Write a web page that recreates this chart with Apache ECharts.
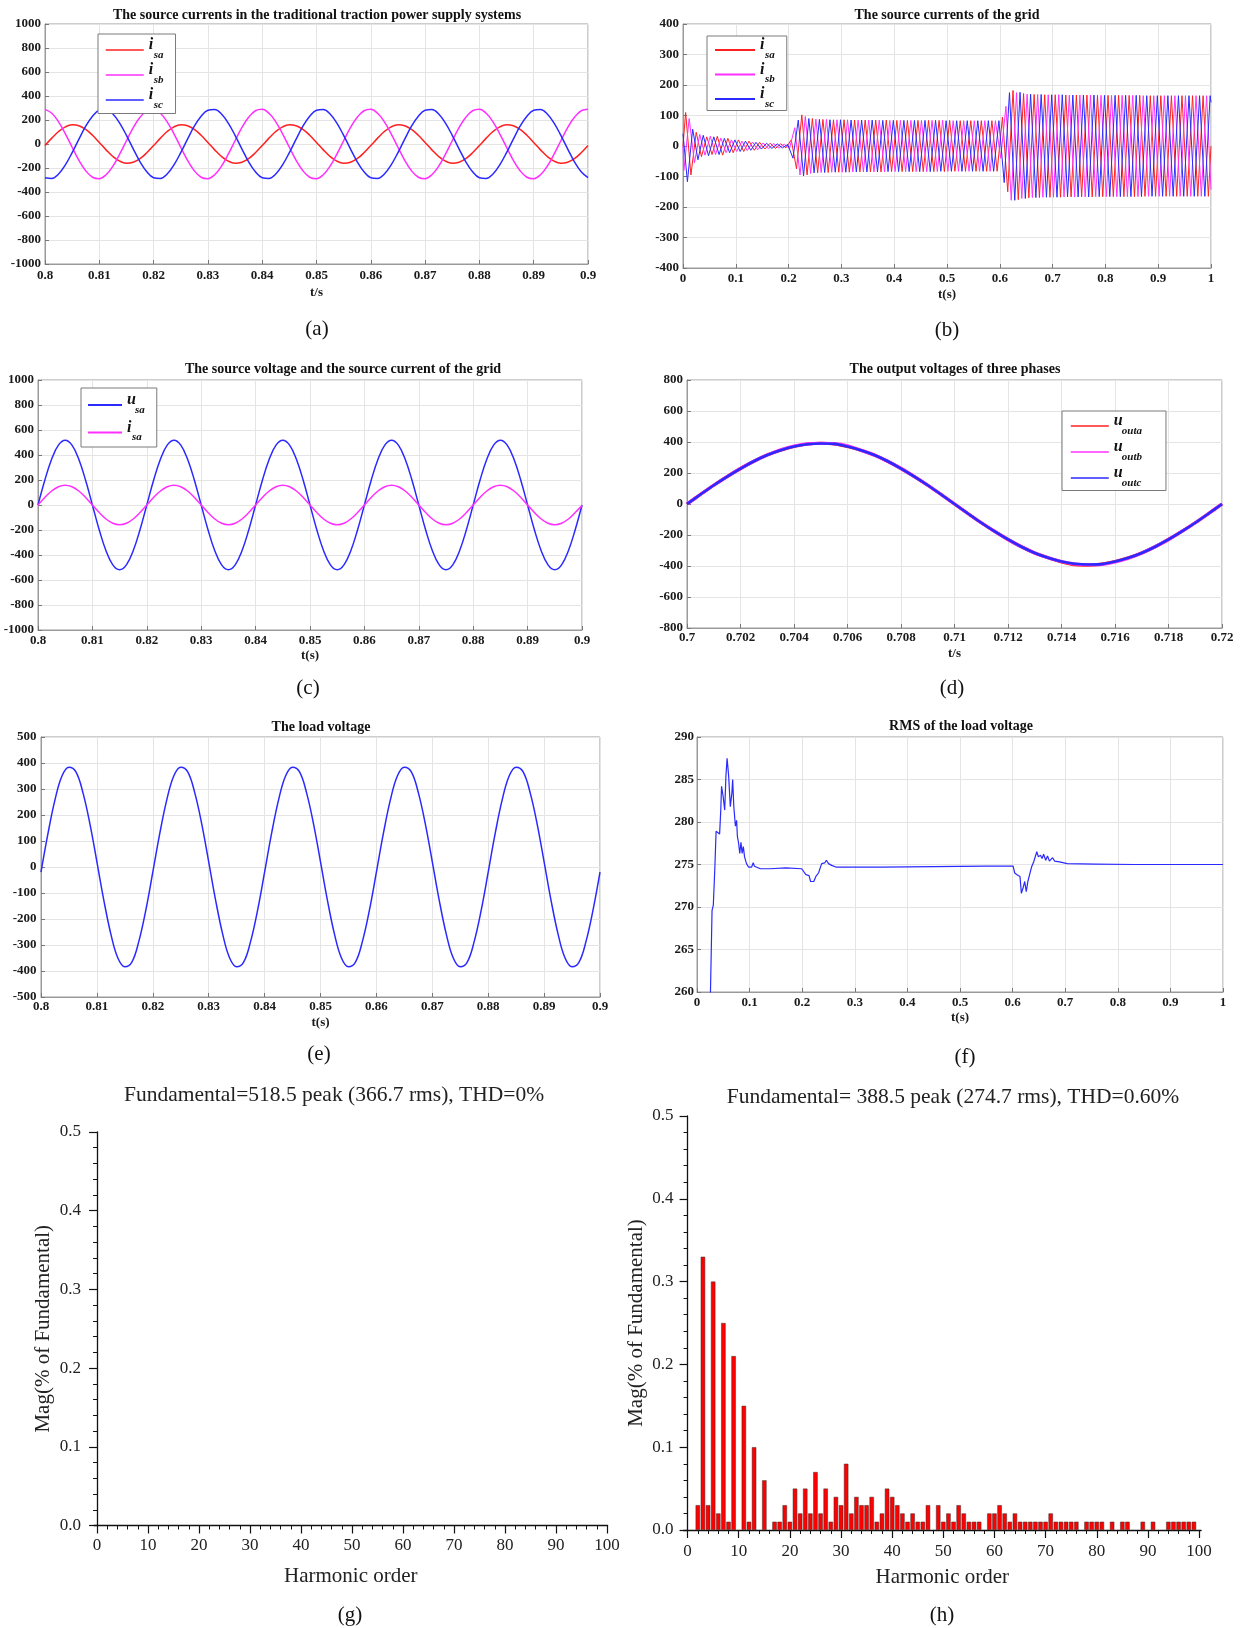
<!DOCTYPE html>
<html><head><meta charset="utf-8">
<script src="https://cdn.jsdelivr.net/npm/echarts@6.0.0/dist/echarts.min.js"></script>
<style>html,body{margin:0;padding:0;background:#fff}#c{width:1240px;height:1628px}</style>
</head><body><div id="c"></div><script>
// ---------------- DATA ----------------
// (a) source currents, traditional traction system; samples every 0.00125 s from 0.8 s
const aStart = 0.8, aStep = 0.00125;
const aIsa = [-13,49,104,143,160,152,122,73,13,-49,-104,-143,-160,-152,-122,-73,
  -13,49,104,143,160,152,122,73,13,-49,-104,-143,-160,-152,-122,-73,
  -13,49,104,143,160,152,122,73,13,-49,-104,-143,-160,-152,-122,-73,
  -13,49,104,143,160,152,122,73,13,-49,-104,-143,-160,-152,-122,-73,
  -13,49,104,143,160,152,122,73,13,-49,-104,-143,-160,-152,-122,-73,-13];
const aIsb = [289,256,185,85,-27,-136,-223,-277,-289,-256,-185,-85,27,136,223,277,
  289,256,185,85,-27,-136,-223,-277,-289,-256,-185,-85,27,136,223,277,
  289,256,185,85,-27,-136,-223,-277,-289,-256,-185,-85,27,136,223,277,
  289,256,185,85,-27,-136,-223,-277,-289,-256,-185,-85,27,136,223,277,
  289,256,185,85,-27,-136,-223,-277,-289,-256,-185,-85,27,136,223,277,289];
const aIsc = [-281,-287,-250,-174,-72,41,148,232,281,287,250,174,72,-41,-148,-232,
  -281,-287,-250,-174,-72,41,148,232,281,287,250,174,72,-41,-148,-232,
  -281,-287,-250,-174,-72,41,148,232,281,287,250,174,72,-41,-148,-232,
  -281,-287,-250,-174,-72,41,148,232,281,287,250,174,72,-41,-148,-232,
  -281,-287,-250,-174,-72,41,148,232,281,287,250,174,72,-41,-148,-232,-281];

// (b) source currents of the grid: successive extremes every 0.01 s
const bStep = 0.01;
const bFirst = [0.005, 0.00167, 0.00833];   // time of first extreme of isa, isb, isc
const bStartVal = [0, 0, 40];                // values at t = 0
const bEndVal = [0, -143, 143];              // values at t = 1
const bIsa = [110,-95,45,-35,30,-28,32,-30,25,-22, 20,-18,16,-14,12,-10,9,-8,7,-6,
  20,-75,102,-95,90,-88,87,-87,86,-86, 86,-86,85,-85,85,-85,85,-85,85,-84,
  84,-84,84,-84,84,-84,84,-84,84,-84, 84,-83,83,-83,83,-83,83,-83,83,-83,
  95,-150,182,-176,172,-170,169,-169,168,-168, 168,-168,167,-167,167,-167,167,-167,166,-166,
  166,-166,166,-166,166,-166,166,-165,165,-165, 165,-165,165,-165,165,-165,165,-165,165,-165];
const bIsb = [-80,90,-55,38,-30,32,-28,26,-22,20, -18,16,-15,13,-12,10,-9,8,-7,6,
  -8,60,-95,97,-90,88,-87,87,-86,86, -86,86,-85,85,-85,85,-85,85,-85,84,
  -84,84,-84,84,-84,84,-84,84,-84,84, -83,83,-83,83,-83,83,-83,83,-83,83,
  -40,130,-178,175,-172,170,-169,169,-168,168, -168,168,-167,167,-167,167,-167,167,-166,166,
  -166,166,-166,166,-166,166,-166,165,-165,165, -165,165,-165,165,-165,165,-165,165,-165,165];
const bIsc = [-117,55,-45,35,-32,30,-28,25,-22,20, -18,16,-14,12,-10,9,-8,7,-6,5,
  -40,85,-98,90,-88,87,-87,86,-86,86, -86,85,-85,85,-85,85,-85,84,-84,84,
  -84,84,-84,84,-84,84,-84,84,-83,83, -83,83,-83,83,-83,83,-83,83,-83,83,
  -120,175,-178,176,-172,170,-169,169,-168,168, -168,168,-167,167,-167,167,-167,167,-166,166,
  -166,166,-166,166,-166,166,-166,165,-165,165, -165,165,-165,165,-165,165,-165,165,-165,165];

// (c) source voltage and current; samples every 0.00125 s from 0.8 s
const cUsa = [0,198,366,479,518,479,366,198,0,-198,-366,-479,-518,-479,-366,-198,
  0,198,366,479,518,479,366,198,0,-198,-366,-479,-518,-479,-366,-198,
  0,198,366,479,518,479,366,198,0,-198,-366,-479,-518,-479,-366,-198,
  0,198,366,479,518,479,366,198,0,-198,-366,-479,-518,-479,-366,-198,
  0,198,366,479,518,479,366,198,0,-198,-366,-479,-518,-479,-366,-198,0];
const cIsa = [0,60,112,146,158,146,112,60,0,-60,-112,-146,-158,-146,-112,-60,
  0,60,112,146,158,146,112,60,0,-60,-112,-146,-158,-146,-112,-60,
  0,60,112,146,158,146,112,60,0,-60,-112,-146,-158,-146,-112,-60,
  0,60,112,146,158,146,112,60,0,-60,-112,-146,-158,-146,-112,-60,
  0,60,112,146,158,146,112,60,0,-60,-112,-146,-158,-146,-112,-60,-5];

// (d) output voltages; samples every 0.0005 s from 0.7 s
const dStart = 0.7, dStep = 0.0005;
const dOutc = [0,61,121,177,229,276,316,347,371,385,390,388,371,347,316,276,229,177,121,61,
  0,-61,-121,-177,-229,-276,-316,-347,-371,-385,-390,-388,-371,-347,-316,-276,-229,-177,-121,-61,0];
const dOuta = [0,61,121,177,229,276,316,347,371,387,392,388,371,347,316,276,229,177,121,61,
  0,-61,-121,-177,-229,-276,-316,-347,-374,-392,-395,-388,-371,-347,-316,-276,-229,-177,-121,-61,0];
const dOutb = [0,61,121,177,229,276,316,350,374,388,392,390,376,347,316,276,229,177,121,61,
  0,-61,-121,-177,-229,-276,-316,-347,-371,-387,-392,-390,-374,-350,-316,-276,-229,-177,-121,-61,0];

// (e) load voltage; samples every 0.00125 s from 0.8 s
const eLoad = [-20,129,258,350,384,366,286,166,20,-129,-258,-350,-384,-366,-286,-166,
  -20,129,258,350,384,366,286,166,20,-129,-258,-350,-384,-366,-286,-166,
  -20,129,258,350,384,366,286,166,20,-129,-258,-350,-384,-366,-286,-166,
  -20,129,258,350,384,366,286,166,20,-129,-258,-350,-384,-366,-286,-166,
  -20,129,258,350,384,366,286,166,20,-129,-258,-350,-384,-366,-286,-166,-20];

// (f) RMS of the load voltage
const fTime = [0.025,0.0256,0.0286,0.031,0.034,0.0363,0.040,0.043,0.0452,0.0467,0.0497,0.0527,0.055,0.0572,
  0.0602,0.0633,0.0663,0.0678,0.070,0.073,0.0753,0.0768,0.0791,0.0813,0.0836,0.0858,0.0881,0.0904,0.0941,
  0.0979,0.1039,0.1069,0.1092,0.1205,0.139,0.169,0.199,0.207,0.213,0.216,0.222,0.226,0.231,0.237,0.243,
  0.246,0.250,0.256,0.264,0.35,0.45,0.55,0.601,0.604,0.6084,0.614,0.6167,0.6197,0.623,0.626,0.629,0.6325,
  0.636,0.640,0.643,0.646,0.649,0.653,0.656,0.659,0.663,0.6664,0.670,0.676,0.680,0.689,0.704,0.757,0.832,0.907,1.0];
const fRms = [250,260,269.6,270.2,274.7,278.9,279.0,278.6,281.4,284.2,283.0,281.4,285.4,287.5,
  285.4,281.8,283.4,285.0,281.8,279.5,280.2,278.3,277.5,276.3,277.6,276.3,277.1,275.9,275.1,
  274.7,274.7,275.2,274.8,274.5,274.5,274.6,274.5,273.8,273.7,273.0,273.0,273.6,274.0,275.1,275.2,
  275.5,275.1,274.9,274.7,274.7,274.75,274.8,274.8,274.0,273.8,273.6,271.6,272.2,273.0,271.8,273.0,273.2,
  274.7,275.3,275.5,276.5,275.9,276.1,275.7,276.2,275.5,276.0,275.4,275.8,275.4,275.3,275.1,275.05,275.0,275.0,275.0];

// (g) harmonic spectrum of source voltage: THD = 0 -> no harmonic bars
const gOrders = [];
const gMags = [];

// (h) harmonic spectrum of load voltage
const hOrders = [2,3,4,5,6,7,8,9,11,12,13,15,17,18,19,20,21,22,23,24,25,26,27,28,29,30,31,32,33,34,35,36,37,38,39,40,
  41,42,43,44,45,46,47,49,50,51,52,53,54,55,56,57,59,60,61,62,63,64,65,66,67,68,69,70,71,72,73,74,75,76,
  78,79,80,81,83,85,86,89,91,94,95,96,97,98,99];
const hMags = [0.03,0.33,0.03,0.30,0.02,0.25,0.01,0.21,0.15,0.01,0.10,0.06,0.01,0.01,0.03,0.01,0.05,0.02,0.05,0.02,0.07,0.02,0.05,0.01,0.04,0.03,0.08,0.02,0.04,0.03,0.03,0.04,0.01,0.02,0.05,0.04,
  0.03,0.02,0.01,0.02,0.01,0.01,0.03,0.03,0.01,0.02,0.01,0.03,0.02,0.01,0.01,0.01,0.02,0.02,0.03,0.02,0.01,0.02,0.01,0.01,0.01,0.01,0.01,0.01,0.02,0.01,0.01,0.01,0.01,0.01,
  0.01,0.01,0.01,0.01,0.01,0.01,0.01,0.01,0.01,0.01,0.01,0.01,0.01,0.01,0.01];

// tick values
const harmonicTicks = [0,10,20,30,40,50,60,70,80,90,100];
const harmonicMinorTicks = [2,4,6,8,12,14,16,18,22,24,26,28,32,34,36,38,42,44,46,48,52,54,56,58,
  62,64,66,68,72,74,76,78,82,84,86,88,92,94,96,98];

// ---------------- BUILD ----------------
const FONT = '"Liberation Serif", "Times New Roman", serif';
const RED = '#ff2020', MAG = '#ff30ff', BLUE = '#2a2aff';
const sampled = (start, step, vals) => vals.map((v, i) => [+(start + i * step).toFixed(6), v]);
const extremes = (k) => {
  const vals = [bIsa, bIsb, bIsc][k];
  const pts = [[0, bStartVal[k]]];
  vals.forEach((v, i) => pts.push([+(bFirst[k] + i * bStep).toFixed(6), v]));
  pts.push([1, bEndVal[k]]);
  return pts;
};

const tickLbl = {fontFamily: FONT, fontWeight: 'bold', fontSize: 13, color: '#1a1a1a'};
const frameColor = '#9a9a9a';
const plain = v => String(+v.toFixed(6));
function mX(gi, min, max, interval, name, nameGap, margin) {
  return {type: 'value', gridIndex: gi, min, max, interval, name, nameLocation: 'middle', nameGap,
    nameTextStyle: Object.assign({}, tickLbl),
    axisLine: {show: true, onZero: false, lineStyle: {color: frameColor, width: 1}},
    axisTick: {show: true, inside: true, length: 4, lineStyle: {color: '#777'}},
    axisLabel: Object.assign({margin, formatter: plain}, tickLbl),
    splitLine: {show: true, lineStyle: {color: '#e4e4e4', width: 1}}};
}
function mY(gi, min, max, interval, margin) {
  return {type: 'value', gridIndex: gi, min, max, interval,
    axisLine: {show: true, onZero: false, lineStyle: {color: frameColor, width: 1}},
    axisTick: {show: true, inside: true, length: 4, lineStyle: {color: '#777'}},
    axisLabel: Object.assign({margin, formatter: plain}, tickLbl),
    splitLine: {show: true, lineStyle: {color: '#e4e4e4', width: 1}}};
}
const oLbl = {fontFamily: FONT, fontSize: 17, color: '#222'};
const oName = {fontFamily: FONT, fontSize: 21, color: '#222'};
function oXMajor(gi, min, max, margin, nameGap) {
  return {type: 'value', gridIndex: gi, min, max, position: 'bottom',
    name: 'Harmonic order', nameLocation: 'middle', nameGap, nameTextStyle: oName,
    axisLine: {show: true, onZero: false, lineStyle: {color: '#111', width: 1.3}},
    axisTick: {show: true, inside: false, length: 8, customValues: harmonicTicks, lineStyle: {color: '#111', width: 1.2}},
    axisLabel: Object.assign({margin, customValues: harmonicTicks}, oLbl),
    splitLine: {show: false}};
}
function oXMinor(gi, min, max) {
  return {type: 'value', gridIndex: gi, min, max, position: 'bottom',
    axisLine: {show: false},
    axisTick: {show: true, inside: false, length: 4, customValues: harmonicMinorTicks, lineStyle: {color: '#111', width: 1}},
    axisLabel: {show: false}, splitLine: {show: false}};
}
function oY(gi, margin, nameGap) {
  return {type: 'value', gridIndex: gi, min: 0, max: 0.5, interval: 0.1,
    name: 'Mag(% of Fundamental)', nameLocation: 'middle', nameGap, nameTextStyle: oName,
    axisLine: {show: true, lineStyle: {color: '#111', width: 1.3}},
    axisTick: {show: true, inside: false, length: 8, lineStyle: {color: '#111', width: 1.2}},
    minorTick: {show: true, splitNumber: 5, length: 4, lineStyle: {color: '#111', width: 1}},
    axisLabel: Object.assign({margin, formatter: v => v.toFixed(1)}, oLbl),
    splitLine: {show: false}};
}

// legend labels: main symbol, subscript
const legendLabel = {
  a_isa: ['i','sa'], a_isb: ['i','sb'], a_isc: ['i','sc'],
  b_isa: ['i','sa'], b_isb: ['i','sb'], b_isc: ['i','sc'],
  c_usa: ['u','sa'], c_isa: ['i','sa'],
  d_outa: ['u','outa'], d_outb: ['u','outb'], d_outc: ['u','outc']
};
const legTxt = {fontFamily: FONT, fontStyle: 'italic', fontWeight: 'bold', color: '#111'};
const rich = {
  m: Object.assign({fontSize: 16, lineHeight: 10}, legTxt),
  si: Object.assign({fontSize: 11, lineHeight: 10, padding: [0, 0, 0, 5]}, legTxt),
  su: Object.assign({fontSize: 11, lineHeight: 10, padding: [0, 0, 0, 8]}, legTxt)
};
function legend(names, left, top, padding, itemGap, itemWidth, lineW) {
  return {data: names, orient: 'vertical', left, top, padding, itemGap, itemWidth, itemHeight: 20,
    borderColor: '#7a7a7a', borderWidth: 1, backgroundColor: '#fff', selectedMode: false,
    itemStyle: {opacity: 0}, lineStyle: {width: lineW, opacity: 1},
    formatter: n => {
      const [m, s] = legendLabel[n];
      return '{m|' + m + '}\n{' + (m === 'u' ? 'su' : 'si') + '|' + s + '}';
    },
    textStyle: {rich}};
}

const tMat = {fontFamily: FONT, fontWeight: 'bold', fontSize: 14, color: '#111'};
const tOrig = {fontFamily: FONT, fontWeight: 'normal', fontSize: 21.5, color: '#222'};
const tSub = {fontFamily: FONT, fontWeight: 'normal', fontSize: 21, color: '#111'};
const T = (text, x, y, st) => ({text, left: x, top: y, textAlign: 'center', textVerticalAlign: 'middle', padding: 0, textStyle: st});

function line(name, xi, data, color, width, smooth) {
  return {type: 'line', name, xAxisIndex: xi, yAxisIndex: xi, data, symbol: 'none', showSymbol: false,
    smooth: smooth || false, lineStyle: {color, width}, itemStyle: {color}, animation: false, clip: true};
}

const matGrid = {show: true, borderColor: frameColor, borderWidth: 1, backgroundColor: '#fff', containLabel: false};
const option = {
  backgroundColor: '#fff',
  animation: false,
  title: [
    T('The source currents in the traditional traction power supply systems', 317, 15, tMat),
    T('The source currents of the grid', 947, 15, tMat),
    T('The source voltage and the source current of the grid', 343, 369, tMat),
    T('The output voltages of three phases', 955, 369, tMat),
    T('The load voltage', 321, 727, tMat),
    T('RMS of the load voltage', 961, 726, tMat),
    T('Fundamental=518.5 peak (366.7 rms), THD=0%', 334, 1095, tOrig),
    T('Fundamental= 388.5 peak (274.7 rms), THD=0.60%', 953, 1097, tOrig),
    T('(a)', 317, 329, tSub), T('(b)', 947, 330, tSub),
    T('(c)', 308, 688, tSub), T('(d)', 952, 688, tSub),
    T('(e)', 319, 1054, tSub), T('(f)', 965, 1057, tSub),
    T('(g)', 350, 1615, tSub), T('(h)', 942, 1615, tSub)
  ],
  grid: [
    Object.assign({left: 45, top: 24, width: 543, height: 240}, matGrid),
    Object.assign({left: 683, top: 24, width: 528, height: 244}, matGrid),
    Object.assign({left: 38, top: 380, width: 544, height: 250}, matGrid),
    Object.assign({left: 687, top: 380, width: 535, height: 248}, matGrid),
    Object.assign({left: 41, top: 737, width: 559, height: 260}, matGrid),
    Object.assign({left: 697, top: 737, width: 526, height: 255}, matGrid),
    {left: 94, top: 1132, width: 513.6, height: 393.5, show: false},
    {left: 683.5, top: 1116, width: 517.6, height: 414, show: false}
  ],
  xAxis: [
    mX(0, 0.8, 0.9, 0.01, 't/s', 22, 5),
    mX(1, 0, 1, 0.1, 't(s)', 20.5, 4.5),
    mX(2, 0.8, 0.9, 0.01, 't(s)', 19.5, 4.5),
    mX(3, 0.7, 0.72, 0.002, 't/s', 19.5, 3.5),
    mX(4, 0.8, 0.9, 0.01, 't(s)', 19.5, 3.5),
    mX(5, 0, 1, 0.1, 't(s)', 19.5, 4.5),
    oXMajor(6, -0.6, 100.1, 12, 40.5),
    oXMinor(6, -0.6, 100.1),
    oXMajor(7, -0.8, 100.4, 13.5, 37),
    oXMinor(7, -0.8, 100.4)
  ],
  yAxis: [
    mY(0, -1000, 1000, 200, 4),
    mY(1, -400, 400, 100, 4),
    mY(2, -1000, 1000, 200, 4),
    mY(3, -800, 800, 200, 4),
    mY(4, -500, 500, 100, 4.5),
    mY(5, 260, 290, 5, 3),
    oY(6, 13, 40.5),
    oY(7, 10, 37)
  ],
  legend: [
    legend(['a_isa', 'a_isb', 'a_isc'], 98, 34, [3, 12, 3, 7], 1.5, 38, 1.5),
    legend(['b_isa', 'b_isb', 'b_isc'], 707, 36, [1, 12, 1, 7], 1, 40, 2),
    legend(['c_usa', 'c_isa'], 81, 388, [4, 12, 4, 6], 4, 34, 2),
    legend(['d_outa', 'd_outb', 'd_outc'], 1062, 411, [2, 24, 2, 8], 2.5, 38, 1.6)
  ],
  series: [
    line('a_isa', 0, sampled(aStart, aStep, aIsa), RED, 1.5, 0.4),
    line('a_isb', 0, sampled(aStart, aStep, aIsb), MAG, 1.5, 0.4),
    line('a_isc', 0, sampled(aStart, aStep, aIsc), BLUE, 1.5, 0.4),
    line('b_isa', 1, extremes(0), RED, 1),
    line('b_isb', 1, extremes(1), MAG, 1),
    line('b_isc', 1, extremes(2), BLUE, 1),
    line('c_usa', 2, sampled(aStart, aStep, cUsa), BLUE, 1.5, 0.4),
    line('c_isa', 2, sampled(aStart, aStep, cIsa), MAG, 1.5, 0.4),
    line('d_outa', 3, sampled(dStart, dStep, dOuta), RED, 3.2, 0.3),
    line('d_outb', 3, sampled(dStart, dStep, dOutb), MAG, 3.2, 0.3),
    line('d_outc', 3, sampled(dStart, dStep, dOutc), BLUE, 2.6, 0.3),
    line('e_load', 4, sampled(aStart, aStep, eLoad), BLUE, 1.5, 0.4),
    line('f_rms', 5, fTime.map((t, i) => [t, fRms[i]]), BLUE, 1.2),
    {type: 'bar', name: 'g_harm', xAxisIndex: 6, yAxisIndex: 6, data: gOrders.map((o, i) => [o, gMags[i]]),
      barWidth: 4.4, itemStyle: {color: '#ff0000', borderColor: '#333', borderWidth: 0.5}},
    {type: 'bar', name: 'h_harm', xAxisIndex: 8, yAxisIndex: 7, data: hOrders.map((o, i) => [o, hMags[i]]),
      barWidth: 4.4, itemStyle: {color: '#ff0000', borderColor: '#333', borderWidth: 0.5}}
  ]
};
const chart = echarts.init(document.getElementById('c'), null, {renderer: 'canvas'});
chart.setOption(option);
</script></body></html>
